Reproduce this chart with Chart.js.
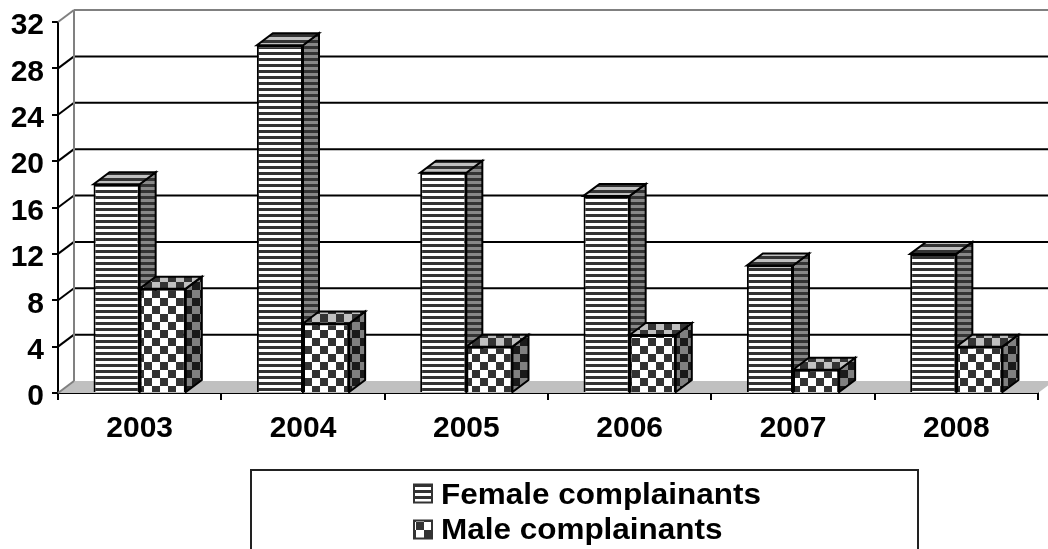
<!DOCTYPE html>
<html>
<head>
<meta charset="utf-8">
<title>Complainants by year</title>
<script src="https://cdn.jsdelivr.net/npm/chart.js@4"></script>
<style>
  html, body { margin: 0; padding: 0; background: #fff; overflow: hidden; }
  canvas { display: block; }
</style>
</head>
<body>
<canvas id="complaintsChart" width="1048" height="549"></canvas>
<script>
const years = ['2003', '2004', '2005', '2006', '2007', '2008'];
const femaleComplainants = [18, 30, 19, 17, 11, 12];
const maleComplainants = [9, 6, 4, 5, 2, 4];
const seriesNames = ['Female complainants', 'Male complainants'];

const DEPTH_X = 16;
const DEPTH_Y = 12;
const FONT = '"Liberation Sans", Arial, sans-serif';

function makeTile(w, h, paint) {
    const tile = document.createElement('canvas');
    tile.width = w;
    tile.height = h;
    paint(tile.getContext('2d'));
    return document.createElement('canvas').getContext('2d').createPattern(tile, 'repeat');
}

function stripes(dark, light) {
    return makeTile(6, 6, c => {
        c.fillStyle = light;
        c.fillRect(0, 0, 6, 6);
        c.fillStyle = dark;
        c.fillRect(0, 0, 6, 1);
        c.fillRect(0, 4, 6, 2);
    });
}

function checks(dark, light) {
    return makeTile(16, 16, c => {
        c.fillStyle = light;
        c.fillRect(0, 0, 16, 16);
        c.fillStyle = dark;
        c.fillRect(8, 2, 8, 8);
        c.fillRect(0, 10, 8, 6);
        c.fillRect(0, 0, 8, 2);
    });
}

const patterns = [
    { front: stripes('#333', '#fff'), side: stripes('#333', '#888'), top: stripes('#333', '#c0c0c0') },
    { front: checks('#333', '#fff'), side: checks('#1a1a1a', '#808080'), top: checks('#333', '#c0c0c0') }
];

function poly(ctx, points, fill, stroke, lineWidth) {
    ctx.beginPath();
    points.forEach((p, i) => i ? ctx.lineTo(p[0], p[1]) : ctx.moveTo(p[0], p[1]));
    ctx.closePath();
    if (fill) {
        ctx.fillStyle = fill;
        ctx.fill();
    }
    if (stroke) {
        ctx.strokeStyle = stroke;
        ctx.lineWidth = lineWidth;
        ctx.stroke();
    }
}

function line(ctx, x1, y1, x2, y2, color, width) {
    ctx.beginPath();
    ctx.moveTo(x1, y1);
    ctx.lineTo(x2, y2);
    ctx.strokeStyle = color;
    ctx.lineWidth = width;
    ctx.stroke();
}

// back wall, floor and the receding faces of the bars
const depthPlugin = {
    id: 'depth',
    beforeDatasetsDraw(chart) {
        const { ctx, chartArea: area, scales } = chart;
        const y = scales.y;
        const dx = DEPTH_X, dy = DEPTH_Y;
        ctx.save();

        poly(ctx, [[area.left, area.bottom], [area.left + dx, area.bottom - dy],
            [area.right + dx, area.bottom - dy], [area.right, area.bottom]], '#c0c0c0');

        y.ticks.forEach(t => {
            const py = y.getPixelForValue(t.value);
            if (t.value === 0 || t.value === y.max) return;
            line(ctx, area.left, py, area.left + dx, py - dy, '#000', 2);
            line(ctx, area.left + dx, py - dy, area.right + dx, py - dy, '#000', 2);
        });

        line(ctx, area.left + dx, area.top - dy, area.left + dx, area.bottom - dy, '#808080', 2);
        line(ctx, area.left + dx, area.top - dy, area.right + dx, area.top - dy, '#808080', 2);
        line(ctx, area.left, area.top, area.left + dx, area.top - dy, '#808080', 2);
        line(ctx, area.left, area.bottom, area.left + dx, area.bottom - dy, '#808080', 2);

        chart.data.datasets.forEach((ds, i) => {
            chart.getDatasetMeta(i).data.forEach(bar => {
                const l = bar.x - bar.width / 2, r = bar.x + bar.width / 2;
                poly(ctx, [[r, bar.y], [r + dx, bar.y - dy], [r + dx, bar.base - dy], [r, bar.base]],
                    patterns[i].side, '#000', 2);
                poly(ctx, [[l, bar.y], [l + dx, bar.y - dy], [r + dx, bar.y - dy], [r, bar.y]],
                    patterns[i].top, '#000', 2);
            });
        });
        ctx.restore();
    },
    // legend box runs off the bottom of the canvas
    afterDraw(chart) {
        const { ctx } = chart;
        ctx.save();
        ctx.strokeStyle = '#222';
        ctx.lineWidth = 2;
        ctx.strokeRect(251, 470, 667, 100);
        ctx.font = 'bold 29px ' + FONT;
        seriesNames.forEach((name, i) => {
            const top = 484.5 + i * 36;
            ctx.fillStyle = patterns[i].front;
            ctx.fillRect(414, top, 18, 18);
            ctx.strokeStyle = '#333';
            ctx.strokeRect(414, top, 18, 18);
            // the legend type is set slightly wide
            ctx.save();
            ctx.translate(441, 504 + i * 35);
            ctx.scale(1.085, 1);
            ctx.fillStyle = '#000';
            ctx.fillText(name, 0, 0);
            ctx.restore();
        });
        ctx.restore();
    }
};

new Chart(document.getElementById('complaintsChart'), {
    type: 'bar',
    data: {
        labels: years,
        datasets: [
            {
                label: seriesNames[0],
                data: femaleComplainants,
                backgroundColor: patterns[0].front,
                borderColor: '#000',
                borderWidth: 2,
                categoryPercentage: 0.565,
                barPercentage: 1
            },
            {
                label: seriesNames[1],
                data: maleComplainants,
                backgroundColor: patterns[1].front,
                borderColor: '#000',
                borderWidth: 2,
                categoryPercentage: 0.565,
                barPercentage: 1
            }
        ]
    },
    options: {
        responsive: false,
        animation: false,
        layout: { padding: { top: 22, right: 10, left: 0, bottom: 0 } },
        plugins: {
            legend: { display: false },
            tooltip: { enabled: false }
        },
        scales: {
            x: {
                afterFit: s => { s.height = 156; },
                grid: { drawOnChartArea: false, color: '#000', lineWidth: 2, tickLength: 7 },
                border: { color: '#000', width: 2 },
                ticks: { color: '#000', padding: 11, maxRotation: 0, font: { family: FONT, size: 30, weight: 'bold' } }
            },
            y: {
                min: 0,
                max: 32,
                afterFit: s => { s.width = 58; s.paddingTop = 0; s.paddingBottom = 0; },
                grid: { drawOnChartArea: false, color: '#000', lineWidth: 2, tickLength: 6 },
                border: { color: '#000', width: 2 },
                ticks: { stepSize: 4, color: '#000', padding: 8, labelOffset: 4, font: { family: FONT, size: 30, weight: 'bold' } }
            }
        }
    },
    plugins: [depthPlugin]
});
</script>
</body>
</html>
